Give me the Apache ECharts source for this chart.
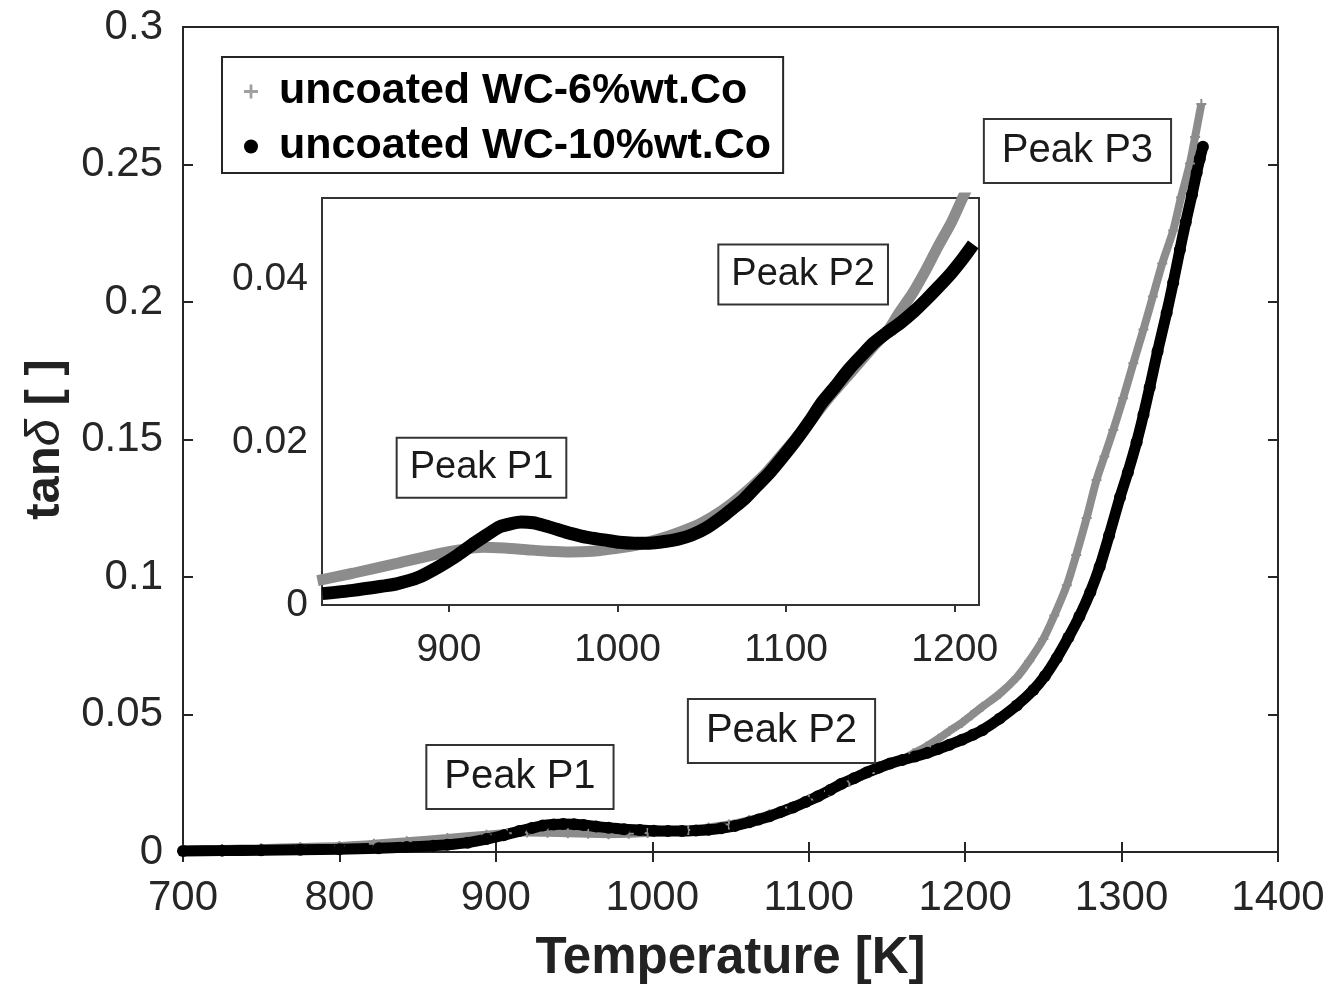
<!DOCTYPE html>
<html>
<head>
<meta charset="utf-8">
<script src="https://cdn.jsdelivr.net/npm/echarts@6/dist/echarts.min.js"></script>
<style>
html,body{margin:0;padding:0;background:#fff;}
#chart{width:1337px;height:989px;}
</style>
</head>
<body>
<div id="chart"></div>
<script>
// ---- data ----
const seriesNames = ['uncoated WC-6%wt.Co', 'uncoated WC-10%wt.Co'];

// WC-6%wt.Co (grey +)
const temp6 = [700, 725, 750, 775, 800, 822, 843, 869, 894, 907, 920, 933, 946, 959, 972, 985, 997, 1010, 1023, 1036, 1049, 1062, 1075, 1088, 1100, 1113, 1126, 1139, 1152, 1160, 1167, 1175, 1183, 1190, 1198, 1204, 1211, 1222, 1233, 1241, 1250, 1257, 1265, 1271, 1277.7, 1284, 1289, 1294.7, 1301, 1307.5, 1314, 1320, 1326, 1333, 1338, 1343.7, 1347, 1351];
const tan6 = [0.0008, 0.0011, 0.0014, 0.0018, 0.0022, 0.0030, 0.0039, 0.0051, 0.0063, 0.0068, 0.0071, 0.0070, 0.0068, 0.0066, 0.0065, 0.0066, 0.0069, 0.0073, 0.0080, 0.0089, 0.0100, 0.0116, 0.0137, 0.0162, 0.0191, 0.0222, 0.0256, 0.0287, 0.0318, 0.0336, 0.0359, 0.0383, 0.0412, 0.0440, 0.0470, 0.0497, 0.0528, 0.0575, 0.0635, 0.0695, 0.0775, 0.0860, 0.0970, 0.1080, 0.1215, 0.1353, 0.1438, 0.1535, 0.1650, 0.1777, 0.1900, 0.2020, 0.2140, 0.2260, 0.2380, 0.2504, 0.2600, 0.2720];

// WC-10%wt.Co (black dots)
const temp10 = [700, 725, 750, 775, 800, 825, 843, 860, 869, 882, 894, 905, 915, 923, 930, 937, 943, 950, 956, 964, 972, 982, 992, 1001, 1010, 1019, 1028, 1036, 1044, 1053, 1062, 1068, 1075, 1082, 1090, 1098, 1106, 1114, 1121, 1129, 1137, 1145, 1152, 1160, 1168, 1176, 1183, 1190, 1198, 1205, 1211, 1222, 1233, 1243.6, 1251, 1258.5, 1266, 1273, 1280, 1286, 1292, 1299, 1304, 1309.6, 1314, 1318, 1323, 1328.8, 1333, 1337.3, 1341, 1345, 1348, 1350, 1352];
const tan10 = [0.0004, 0.0005, 0.0006, 0.0008, 0.0010, 0.0014, 0.0018, 0.0023, 0.0026, 0.0034, 0.0047, 0.0061, 0.0076, 0.0087, 0.0096, 0.0100, 0.0102, 0.0101, 0.0098, 0.0093, 0.0088, 0.0083, 0.0080, 0.0077, 0.0076, 0.0076, 0.0078, 0.0081, 0.0086, 0.0095, 0.0108, 0.0118, 0.0130, 0.0145, 0.0162, 0.0182, 0.0203, 0.0226, 0.0248, 0.0268, 0.0289, 0.0307, 0.0322, 0.0335, 0.0347, 0.0361, 0.0375, 0.0390, 0.0408, 0.0426, 0.0443, 0.0485, 0.0533, 0.0589, 0.0640, 0.0705, 0.0780, 0.0856, 0.0945, 0.1037, 0.1150, 0.1290, 0.1380, 0.1490, 0.1590, 0.1690, 0.1820, 0.1960, 0.2070, 0.2190, 0.2290, 0.2390, 0.2470, 0.2520, 0.2565];

// axis ticks
const mainXTicks = [700, 800, 900, 1000, 1100, 1200, 1300, 1400];
const mainYTicks = [0, 0.05, 0.1, 0.15, 0.2, 0.25, 0.3];
const insetXTicks = [900, 1000, 1100, 1200];
const insetYTicks = [0, 0.02, 0.04];

// annotations: [label, T, tanδ, panel]
const annoLabels = ['Peak P1', 'Peak P2', 'Peak P3', 'Peak P1', 'Peak P2'];
const annoT = [915.4, 1082.6, 1271.8, 919.3, 1110.1];
const annoV = [0.0273, 0.0440, 0.2549, 0.01687, 0.0406];
const annoPanel = ['main', 'main', 'main', 'inset', 'inset'];

// ---- chart ----
const FONT = '"Liberation Sans", Arial, Helvetica, sans-serif';
const AXC = '#262626';
const GREY = '#8c8c8c';
const PLUS = 'path://M4,0H6V4H10V6H6V10H4V6H0V4H4Z';

function zip(xs, ys, lo, hi) {
  const out = [];
  for (let i = 0; i < xs.length; i++) {
    if (xs[i] >= lo && xs[i] <= hi) out.push([xs[i], ys[i]]);
  }
  return out;
}
const plain = v => String(v);

const chart = echarts.init(document.getElementById('chart'), null, {renderer: 'canvas'});

const tickLabelStyle = (size, margin) => ({
  show: true, fontFamily: FONT, fontSize: size, color: AXC, margin: margin, formatter: plain
});

const option = {
  animation: false,
  backgroundColor: '#fff',
  grid: [
    {left: 183, top: 27, width: 1095, height: 825, show: true, borderColor: AXC, borderWidth: 2, backgroundColor: 'transparent'},
    {left: 322, top: 198, width: 657, height: 407, show: true, borderColor: '#333', borderWidth: 2, backgroundColor: '#fff', z: 3}
  ],
  legend: {
    show: true,
    orient: 'vertical',
    left: 222, top: 57,
    padding: [13, 12, 5, 22],
    itemWidth: 46, itemHeight: 14, itemGap: 12,
    backgroundColor: '#fff',
    borderColor: '#262626', borderWidth: 2,
    textStyle: {fontFamily: FONT, fontSize: 43, fontWeight: 'bold', color: '#000'},
    data: [
      {name: seriesNames[0], icon: PLUS, itemStyle: {color: '#a0a0a0'}},
      {name: seriesNames[1], icon: 'circle', itemStyle: {color: '#000'}}
    ],
    selectedMode: false
  },
  xAxis: [
    {type: 'value', gridIndex: 0, position: 'bottom', min: 700, max: 1400, interval: 100,
     axisLine: {show: false}, splitLine: {show: false},
     axisTick: {inside: true, length: 10, lineStyle: {color: AXC, width: 2}},
     axisLabel: tickLabelStyle(42, 25),
     name: 'Temperature [K]', nameLocation: 'middle', nameGap: 81,
     nameTextStyle: {fontFamily: FONT, fontSize: 51, fontWeight: 'bold', color: '#222'}},
    {type: 'value', gridIndex: 0, position: 'top', min: 700, max: 1400, interval: 100,
     axisLine: {show: false}, splitLine: {show: false},
     axisTick: {inside: true, length: 10, lineStyle: {color: AXC, width: 2}},
     axisLabel: {show: false}},
    {type: 'value', gridIndex: 1, position: 'bottom', min: 824.7, max: 1214.4,
     axisLine: {show: false}, splitLine: {show: false},
     axisTick: {inside: true, length: 7, customValues: insetXTicks, lineStyle: {color: '#333', width: 2}},
     axisLabel: Object.assign(tickLabelStyle(39, 26), {customValues: insetXTicks})},
    {type: 'value', gridIndex: 1, position: 'top', min: 824.7, max: 1214.4,
     axisLine: {show: false}, splitLine: {show: false},
     axisTick: {inside: true, length: 7, customValues: insetXTicks, lineStyle: {color: '#333', width: 2}},
     axisLabel: {show: false}}
  ],
  yAxis: [
    {type: 'value', gridIndex: 0, position: 'left', min: 0, max: 0.3, interval: 0.05,
     axisLine: {show: false}, splitLine: {show: false},
     axisTick: {inside: true, length: 10, lineStyle: {color: AXC, width: 2}},
     axisLabel: tickLabelStyle(42, 20),
     name: '{b|tan}{i|δ}{b| [ ]}', nameLocation: 'middle', nameGap: 106, nameRotate: 90,
     nameTextStyle: {
       fontFamily: FONT, fontSize: 49, color: '#222',
       rich: {
         b: {fontFamily: FONT, fontSize: 49, fontWeight: 'bold', color: '#222'},
         i: {fontFamily: FONT, fontSize: 49, fontStyle: 'italic', color: '#222'}
       }
     }},
    {type: 'value', gridIndex: 0, position: 'right', min: 0, max: 0.3, interval: 0.05,
     axisLine: {show: false}, splitLine: {show: false},
     axisTick: {inside: true, length: 10, lineStyle: {color: AXC, width: 2}},
     axisLabel: {show: false}},
    {type: 'value', gridIndex: 1, position: 'left', min: 0, max: 0.05,
     axisLine: {show: false}, splitLine: {show: false},
     axisTick: {inside: true, length: 7, customValues: insetYTicks, lineStyle: {color: '#333', width: 2}},
     axisLabel: Object.assign(tickLabelStyle(39, 14), {customValues: insetYTicks})},
    {type: 'value', gridIndex: 1, position: 'right', min: 0, max: 0.05,
     axisLine: {show: false}, splitLine: {show: false},
     axisTick: {inside: true, length: 7, customValues: insetYTicks, lineStyle: {color: '#333', width: 2}},
     axisLabel: {show: false}}
  ],
  series: [
    {name: seriesNames[0], type: 'line', xAxisIndex: 0, yAxisIndex: 0, z: 2,
     data: zip(temp6, tan6, 0, 9999), smooth: 0.25, showSymbol: true, showAllSymbol: true,
     symbol: PLUS, symbolSize: 10, itemStyle: {color: GREY},
     lineStyle: {color: GREY, width: 8}},
    {name: seriesNames[1], type: 'line', xAxisIndex: 0, yAxisIndex: 0, z: 2,
     data: zip(temp10, tan10, 0, 9999), smooth: 0.25, showSymbol: true, showAllSymbol: true,
     symbol: 'circle', symbolSize: 12, itemStyle: {color: '#000'},
     lineStyle: {color: '#000', width: 11}},
    {name: seriesNames[0], type: 'line', xAxisIndex: 2, yAxisIndex: 2, z: 5,
     data: zip(temp6, tan6, 820, 1215), smooth: 0.25, showSymbol: false, clip: true,
     itemStyle: {color: GREY}, lineStyle: {color: GREY, width: 11}},
    {name: seriesNames[1], type: 'line', xAxisIndex: 2, yAxisIndex: 2, z: 6,
     data: zip(temp10, tan10, 820, 1215), smooth: 0.25, showSymbol: false, clip: true,
     itemStyle: {color: '#000'}, lineStyle: {color: '#000', width: 13}}
  ]
};

chart.setOption(option);

// place annotation boxes from data coordinates
const graphics = [];
for (let i = 0; i < annoLabels.length; i++) {
  const inset = annoPanel[i] === 'inset';
  const p = chart.convertToPixel(inset ? {xAxisIndex: 2, yAxisIndex: 2} : {xAxisIndex: 0, yAxisIndex: 0}, [annoT[i], annoV[i]]);
  graphics.push({
    type: 'text', x: p[0], y: p[1], z: 20,
    style: {
      text: annoLabels[i],
      fontFamily: FONT, fontSize: inset ? 38 : 40, fill: '#1a1a1a',
      align: 'center', verticalAlign: 'middle',
      backgroundColor: '#fff', borderColor: '#333', borderWidth: 2,
      padding: inset ? [10, 12, 10, 12] : [11, 17, 11, 17]
    }
  });
}
chart.setOption({graphic: graphics});
</script>
</body>
</html>
